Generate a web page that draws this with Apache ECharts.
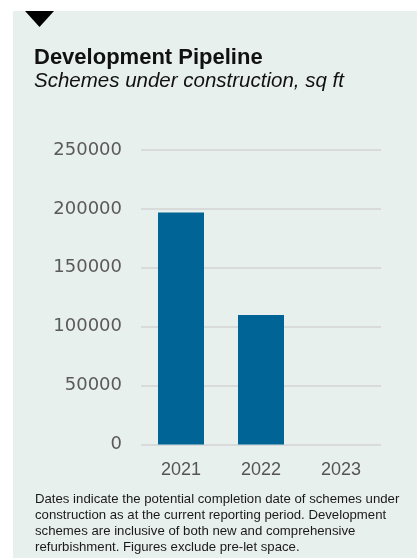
<!DOCTYPE html>
<html>
<head>
<meta charset="utf-8">
<title>Development Pipeline</title>
<script src="https://cdn.jsdelivr.net/npm/echarts@6/dist/echarts.min.js"></script>
<style>
  html, body { margin: 0; padding: 0; background: #ffffff; }
  #chart { width: 417px; height: 558px; }
</style>
</head>
<body>
<div id="chart"></div>
<script>
// Completion year of schemes under construction
const years = ['2021', '2022', '2023'];
// Floor area under construction, sq ft
const areaSqFt = [197000, 110000, 0];
// Value axis ticks
const yTicks = [0, 50000, 100000, 150000, 200000, 250000];

const titleText = 'Development Pipeline';
const subtitleText = 'Schemes under construction, sq ft';
const noteLines = [
  'Dates indicate the potential completion date of schemes under',
  'construction as at the current reporting period. Development',
  'schemes are inclusive of both new and comprehensive',
  'refurbishment. Figures exclude pre-let space.'
];

const FONT = '"Liberation Sans", Arial, Helvetica, sans-serif';

const chart = echarts.init(document.getElementById('chart'), null, { renderer: 'canvas' });

chart.setOption({
  backgroundColor: '#ffffff',
  animation: false,
  graphic: [
    {
      type: 'rect', z: -10, silent: true,
      shape: { x: 13, y: 11, width: 404, height: 547 },
      style: { fill: '#e8f0ee' }
    },
    {
      type: 'polygon', silent: true,
      shape: { points: [[25, 11], [54, 11], [39.5, 27]] },
      style: { fill: '#000000' }
    },
    {
      type: 'text', silent: true, left: 34, top: 47,
      style: { text: titleText, font: 'bold 22px ' + FONT, fill: '#111111' }
    },
    {
      type: 'text', silent: true, left: 34, top: 71,
      style: { text: subtitleText, font: 'italic 20.5px ' + FONT, fill: '#111111' }
    },
    {
      type: 'text', silent: true, left: 35, top: 491,
      style: {
        text: noteLines.join('\n'),
        font: '13.2px ' + FONT,
        lineHeight: 16,
        fill: '#1a1a1a'
      }
    }
  ],
  grid: { left: 141, right: 36, top: 150, bottom: 113.5, containLabel: false },
  xAxis: {
    type: 'category',
    data: years,
    axisLine: { show: false },
    axisTick: { show: false },
    axisLabel: { color: '#555555', fontFamily: FONT, fontSize: 18, margin: 17 }
  },
  yAxis: {
    type: 'value',
    min: yTicks[0],
    max: yTicks[yTicks.length - 1],
    interval: yTicks[1] - yTicks[0],
    axisLine: { show: false },
    axisTick: { show: false },
    axisLabel: {
      color: '#5a5a5a',
      fontFamily: '"DejaVu Sans", sans-serif',
      fontSize: 18,
      margin: 19,
      formatter: (v) => String(v)
    },
    splitLine: { lineStyle: { color: '#d9dbdb', width: 2 } }
  },
  series: [{
    type: 'bar',
    data: areaSqFt,
    barWidth: 46,
    itemStyle: { color: '#016496' },
    silent: true
  }]
});
</script>
</body>
</html>
